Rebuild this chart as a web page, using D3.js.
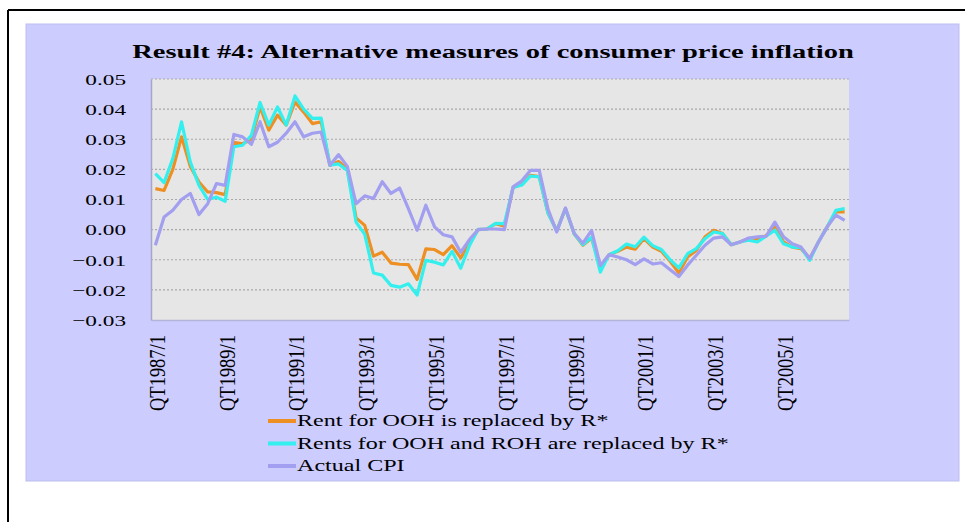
<!DOCTYPE html>
<html>
<head>
<meta charset="utf-8">
<script src="https://cdn.jsdelivr.net/npm/d3@7/dist/d3.min.js"></script>
<style>
  html, body { margin: 0; padding: 0; background: #ffffff; }
  svg { display: block; }
  text { font-family: "Liberation Serif", "Times New Roman", serif; fill: #000; }
</style>
</head>
<body>
<svg id="chart" width="965" height="522"></svg>
<script>
// Quarterly periods 1987Q1 .. 2006Q4
const years = [1987, 1988, 1989, 1990, 1991, 1992, 1993, 1994, 1995, 1996,
               1997, 1998, 1999, 2000, 2001, 2002, 2003, 2004, 2005, 2006];
const quarters = [1, 2, 3, 4];
const categories = years.flatMap(y => quarters.map(q => `QT${y}/${q}`));

const tickLabels = ["QT1987/1", "QT1989/1", "QT1991/1", "QT1993/1", "QT1995/1",
                    "QT1997/1", "QT1999/1", "QT2001/1", "QT2003/1", "QT2005/1"];
const yTicks = [0.05, 0.04, 0.03, 0.02, 0.01, 0.00, -0.01, -0.02, -0.03];

const seriesNames = ["Rent for OOH is replaced by R*",
                     "Rents for OOH and ROH are replaced by R*",
                     "Actual CPI"];

// Rent for owner-occupied housing replaced by R*
const rentOOH = [
  0.0136, 0.0130, 0.0200, 0.0308, 0.0210, 0.0158, 0.0125, 0.0123, 0.0116, 0.0290,
  0.0285, 0.0300, 0.0407, 0.0330, 0.0380, 0.0347, 0.0424, 0.0390, 0.0352, 0.0358,
  0.0214, 0.0226, 0.0202, 0.0039, 0.0014, -0.0088, -0.0075, -0.0111, -0.0115, -0.0116,
  -0.0165, -0.0064, -0.0066, -0.0083, -0.0053, -0.0094, -0.0045, 0.0000, 0.0002, 0.0020,
  0.0011, 0.0140, 0.0150, 0.0180, 0.0176, 0.0055, -0.0003, 0.0070, -0.0014, -0.0052,
  -0.0028, -0.0125, -0.0083, -0.0072, -0.0058, -0.0065, -0.0030, -0.0058, -0.0072, -0.0105,
  -0.0144, -0.0091, -0.0069, -0.0024, -0.0002, -0.0013, -0.0050, -0.0041, -0.0030, -0.0032,
  -0.0020, 0.0009, -0.0041, -0.0058, -0.0063, -0.0096, -0.0041, 0.0009, 0.0059, 0.0059
];

// Rents for owner- and renter-occupied housing replaced by R*
const rentOOHROH = [
  0.0186, 0.0156, 0.0236, 0.0358, 0.0225, 0.0147, 0.0100, 0.0108, 0.0094, 0.0275,
  0.0280, 0.0313, 0.0422, 0.0347, 0.0407, 0.0347, 0.0444, 0.0400, 0.0369, 0.0370,
  0.0214, 0.0218, 0.0196, 0.0025, -0.0016, -0.0144, -0.0151, -0.0185, -0.0191, -0.0180,
  -0.0217, -0.0102, -0.0108, -0.0117, -0.0072, -0.0128, -0.0053, 0.0001, 0.0002, 0.0021,
  0.0020, 0.0140, 0.0148, 0.0178, 0.0175, 0.0055, -0.0005, 0.0070, -0.0014, -0.0050,
  -0.0025, -0.0141, -0.0083, -0.0070, -0.0048, -0.0057, -0.0025, -0.0053, -0.0066, -0.0100,
  -0.0127, -0.0080, -0.0063, -0.0030, -0.0008, -0.0013, -0.0050, -0.0041, -0.0035, -0.0041,
  -0.0022, -0.0002, -0.0047, -0.0058, -0.0060, -0.0102, -0.0041, 0.0009, 0.0064, 0.0070
];

// Actual CPI inflation
const actualCPI = [
  -0.0052, 0.0042, 0.0064, 0.0100, 0.0120, 0.0050, 0.0086, 0.0153, 0.0147, 0.0316,
  0.0308, 0.0283, 0.0358, 0.0275, 0.0290, 0.0320, 0.0358, 0.0308, 0.0320, 0.0324,
  0.0214, 0.0249, 0.0210, 0.0086, 0.0112, 0.0103, 0.0159, 0.0120, 0.0138, 0.0070,
  -0.0002, 0.0081, 0.0009, -0.0017, -0.0024, -0.0075, -0.0033, 0.0000, 0.0002, 0.0002,
  0.0000, 0.0142, 0.0162, 0.0197, 0.0197, 0.0068, -0.0008, 0.0072, -0.0012, -0.0045,
  -0.0003, -0.0119, -0.0083, -0.0091, -0.0100, -0.0116, -0.0097, -0.0114, -0.0110, -0.0133,
  -0.0156, -0.0118, -0.0085, -0.0052, -0.0028, -0.0024, -0.0050, -0.0041, -0.0028, -0.0024,
  -0.0022, 0.0025, -0.0024, -0.0047, -0.0058, -0.0096, -0.0041, 0.0009, 0.0048, 0.0031
];

const seriesColors = ["#ee8f24", "#33f0ee", "#a29ef0"];
const seriesValues = [rentOOH, rentOOHROH, actualCPI];

const svg = d3.select("#chart");
const W = 965, H = 522;
const plot = { left: 151, right: 849, top: 79, bottom: 320 };
const TEXT_SX = 1.45; // horizontal stretch of all lettering

// page frame lines
svg.append("line").attr("x1", 8).attr("x2", W).attr("y1", 10).attr("y2", 10)
  .attr("stroke", "#000").attr("stroke-width", 2);
svg.append("line").attr("x1", 8).attr("x2", 8).attr("y1", 10).attr("y2", H)
  .attr("stroke", "#000").attr("stroke-width", 2);

// chart panel
svg.append("rect").attr("x", 26).attr("y", 24).attr("width", 933).attr("height", 457)
  .attr("fill", "#ccccff").attr("stroke", "#bdbdef").attr("stroke-width", 1);

// plot area
svg.append("rect").attr("x", plot.left).attr("y", plot.top)
  .attr("width", plot.right - plot.left).attr("height", plot.bottom - plot.top)
  .attr("fill", "#e6e6e6");

const x = d3.scaleBand().domain(categories).range([plot.left, plot.right]).padding(0);
const y = d3.scaleLinear().domain([-0.03, 0.05]).range([plot.bottom, plot.top]);
const cx = c => x(c) + x.bandwidth() / 2;

// dotted gridlines
svg.append("g").selectAll("line")
  .data(yTicks.filter(v => v > -0.03))
  .join("line")
  .attr("x1", plot.left).attr("x2", plot.right)
  .attr("y1", d => y(d)).attr("y2", d => y(d))
  .attr("stroke", "#a9a9a9").attr("stroke-width", 1.2)
  .attr("stroke-dasharray", "2,2");

// y axis
const yAxis = svg.append("g")
  .attr("transform", `translate(${plot.left},0)`)
  .call(d3.axisLeft(y).tickValues(yTicks).tickSize(0).tickFormat(d3.format(".2f")));
yAxis.select(".domain").attr("stroke", "#a6a6c8").attr("stroke-width", 1.5);
yAxis.selectAll("text")
  .attr("x", 0).attr("dy", "0.34em")
  .attr("transform", `translate(-25,0) scale(${TEXT_SX + 0.05},1)`)
  .style("font-size", "15.5px")
  .style("font-family", "'Liberation Serif', serif")
  .attr("fill", "#000");

// x axis
const xAxis = svg.append("g")
  .attr("transform", `translate(0,${plot.bottom})`)
  .call(d3.axisBottom(x).tickValues(tickLabels).tickSize(0));
xAxis.select(".domain").attr("stroke", "#b4b4d8").attr("stroke-width", 1.5);
xAxis.selectAll("text")
  .attr("x", 0).attr("y", 0).attr("dy", "0.35em")
  .attr("text-anchor", "end")
  .attr("transform", `translate(1,15) scale(1.3,1) rotate(-90)`)
  .style("font-size", "18.5px")
  .style("font-family", "'Liberation Serif', serif")
  .attr("fill", "#000");

// series lines
const line = d3.line()
  .x((d, i) => cx(categories[i]))
  .y(d => y(d));

svg.append("g").selectAll("path")
  .data(seriesValues)
  .join("path")
  .attr("d", d => line(d))
  .attr("fill", "none")
  .attr("stroke", (d, i) => seriesColors[i])
  .attr("stroke-width", 3.2)
  .attr("stroke-linejoin", "round");

// title
svg.append("text")
  .attr("transform", `translate(493,58) scale(1.5,1)`)
  .attr("text-anchor", "middle")
  .style("font-size", "19px")
  .style("font-weight", "bold")
  .text("Result #4: Alternative measures of consumer price inflation");

// legend
const legend = svg.append("g").selectAll("g")
  .data(seriesNames)
  .join("g")
  .attr("transform", (d, i) => `translate(268,${421 + i * 22.5})`);
legend.append("line")
  .attr("x1", 0).attr("x2", 28).attr("y1", 0).attr("y2", 0)
  .attr("stroke", (d, i) => seriesColors[i]).attr("stroke-width", 4);
legend.append("text")
  .attr("transform", `translate(29,0) scale(1.46,1)`)
  .attr("dy", "0.33em")
  .style("font-size", "16.5px")
  .text(d => d);
</script>
</body>
</html>
